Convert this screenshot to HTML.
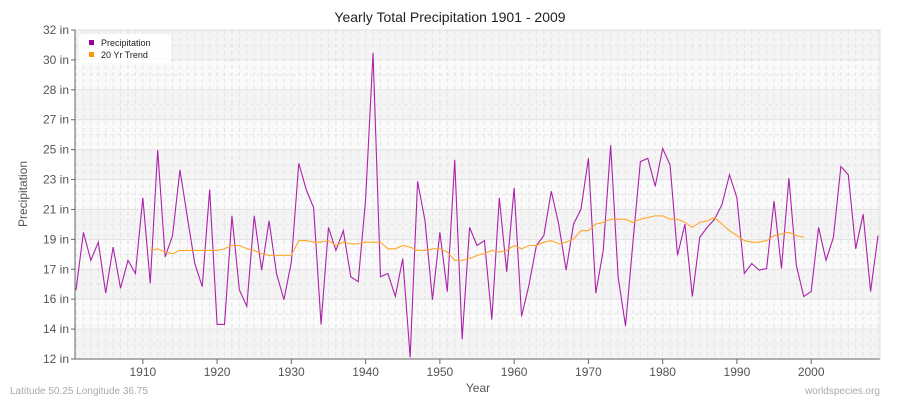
<!DOCTYPE html>
<html><head><meta charset="utf-8"><style>
body{margin:0;background:#fff;font-family:"Liberation Sans",sans-serif}
svg text{font-family:"Liberation Sans",sans-serif}
</style></head><body>
<svg id="chart" width="900" height="400" xmlns="http://www.w3.org/2000/svg">
<text x="450" y="22" text-anchor="middle" font-size="14" fill="#222">Yearly Total Precipitation 1901 - 2009</text>
<g id="grid"></g>
<g id="axes"></g>
<g id="series"></g>
<g>
<rect x="79" y="34" width="92" height="29" rx="4" fill="#fff" opacity="0.9"/>
<rect x="89" y="40" width="5" height="5" fill="#990099"/>
<text x="101" y="46" font-size="9" fill="#222">Precipitation</text>
<rect x="89" y="52" width="5" height="5" fill="#ff9900"/>
<text x="101" y="58" font-size="9" fill="#222">20 Yr Trend</text>
</g>
<text x="27" y="194" text-anchor="middle" font-size="12" fill="#555" transform="rotate(-90 27 194)">Precipitation</text>
<text x="478" y="392" text-anchor="middle" font-size="12" fill="#555">Year</text>
<text x="10" y="394" font-size="10" fill="#aaa">Latitude 50.25 Longitude 36.75</text>
<text x="880" y="394" text-anchor="end" font-size="10" fill="#aaa">worldspecies.org</text>
</svg>
<script>
const startYear = 1901;
const precip = [16.2,19.7,18.0,19.1,16.0,18.8,16.3,18.0,17.2,21.8,16.6,24.7,18.2,19.5,23.5,20.6,17.8,16.4,22.3,14.1,14.1,20.7,16.2,15.2,20.7,17.4,20.4,17.2,15.6,17.9,23.9,22.3,21.2,14.1,20.0,18.6,19.8,17.0,16.7,21.7,30.6,17.0,17.2,15.8,18.1,12.1,22.8,20.4,15.6,19.7,16.1,24.1,13.2,20.0,18.9,19.2,14.4,21.8,17.3,22.4,14.6,16.5,18.9,19.5,22.2,20.2,17.4,20.2,21.1,24.2,16.0,18.6,25.0,17.0,14.0,19.1,24.0,24.2,22.5,24.8,23.8,18.3,20.2,15.8,19.4,20.0,20.5,21.4,23.2,21.8,17.2,17.8,17.4,17.5,21.6,17.5,23.0,17.7,15.8,16.1,20.0,18.0,19.4,23.7,23.2,18.7,20.8,16.1,19.5];
const trendStart = 1911;
const trend = [18.6,18.7,18.5,18.4,18.6,18.6,18.6,18.6,18.6,18.6,18.7,18.9,18.9,18.7,18.6,18.4,18.3,18.3,18.3,18.3,19.2,19.2,19.1,19.1,19.2,18.9,19.1,19.0,19.0,19.1,19.1,19.1,18.7,18.7,18.9,18.8,18.6,18.6,18.7,18.7,18.5,18.0,18.0,18.1,18.3,18.4,18.6,18.5,18.6,18.9,18.7,18.9,18.9,19.1,19.2,19.0,19.1,19.3,19.8,19.8,20.2,20.3,20.5,20.5,20.5,20.3,20.5,20.6,20.7,20.7,20.5,20.5,20.3,20.0,20.3,20.4,20.6,20.2,19.8,19.5,19.2,19.1,19.1,19.2,19.5,19.6,19.7,19.5,19.4];
const yTickLabels = ["12 in","14 in","16 in","17 in","19 in","21 in","23 in","25 in","27 in","28 in","30 in","32 in"];
const xTickYears = [1910,1920,1930,1940,1950,1960,1970,1980,1990,2000];
const yMin=12,yMax=32,L=75,R=880,T=30,B=359;
const xS=yr=>76+(yr-1901)*(878-76)/108;
const yS=v=>B-(v-yMin)/(yMax-yMin)*(B-T);
const NS="http://www.w3.org/2000/svg";
function mk(tag,attrs,parent){const e=document.createElementNS(NS,tag);for(const k in attrs)e.setAttribute(k,attrs[k]);parent.appendChild(e);return e;}
const grid=document.getElementById('grid'),axes=document.getElementById('axes'),series=document.getElementById('series');
const n=yTickLabels.length-1,step=(B-T)/n;
for(let i=0;i<n;i++){
  const r=mk('rect',{x:L,y:T+i*step,width:R-L,height:step,fill:i%2==0?'#f4f4f4':'#fafafa'},grid);
  
  
  mk('line',{x1:L,x2:R,y1:T+i*step+step/2,y2:T+i*step+step/2,stroke:'#e6e6e6','stroke-dasharray':'4,3'},grid);
}
for(let yr=1901;yr<=2009;yr++){
  mk('line',{x1:xS(yr),x2:xS(yr),y1:T,y2:B,stroke:'#e4e4e4','stroke-dasharray':'4,3'},grid);
}
yTickLabels.forEach((lab,i)=>{
  const y=B-i*step;
  mk('line',{x1:L,x2:R,y1:y,y2:y,stroke:'#e2e2e2'},grid);
  mk('line',{x1:L-4,x2:L,y1:y,y2:y,stroke:'#666'},axes);
  const t=mk('text',{x:L-6,y:y+4,'text-anchor':'end','font-size':12,fill:'#555'},axes);
  t.textContent=lab;
  
  
});
xTickYears.forEach(yr=>{
  const x=xS(yr);
  mk('line',{x1:x,x2:x,y1:B,y2:B+5,stroke:'#666'},axes);
  const t=mk('text',{x:x,y:B+17,'text-anchor':'middle','font-size':12,fill:'#555'},axes);
  t.textContent=yr;
  
  
});
mk('line',{x1:L,x2:L,y1:T,y2:B,stroke:'#666'},axes);
mk('line',{x1:L,x2:R,y1:B,y2:B,stroke:'#666'},axes);
mk('line',{x1:R,x2:R,y1:T,y2:B,stroke:'#ddd'},axes);
const pp=mk('polyline',{points:precip.map((v,i)=>xS(startYear+i)+','+yS(v)).join(' '),fill:'none',stroke:'#aa22aa','stroke-width':1.1},series);


const tp=mk('polyline',{points:trend.map((v,i)=>xS(trendStart+i)+','+yS(v)).join(' '),fill:'none',stroke:'#ffa726','stroke-width':1.1},series);


</script>
</body></html>
